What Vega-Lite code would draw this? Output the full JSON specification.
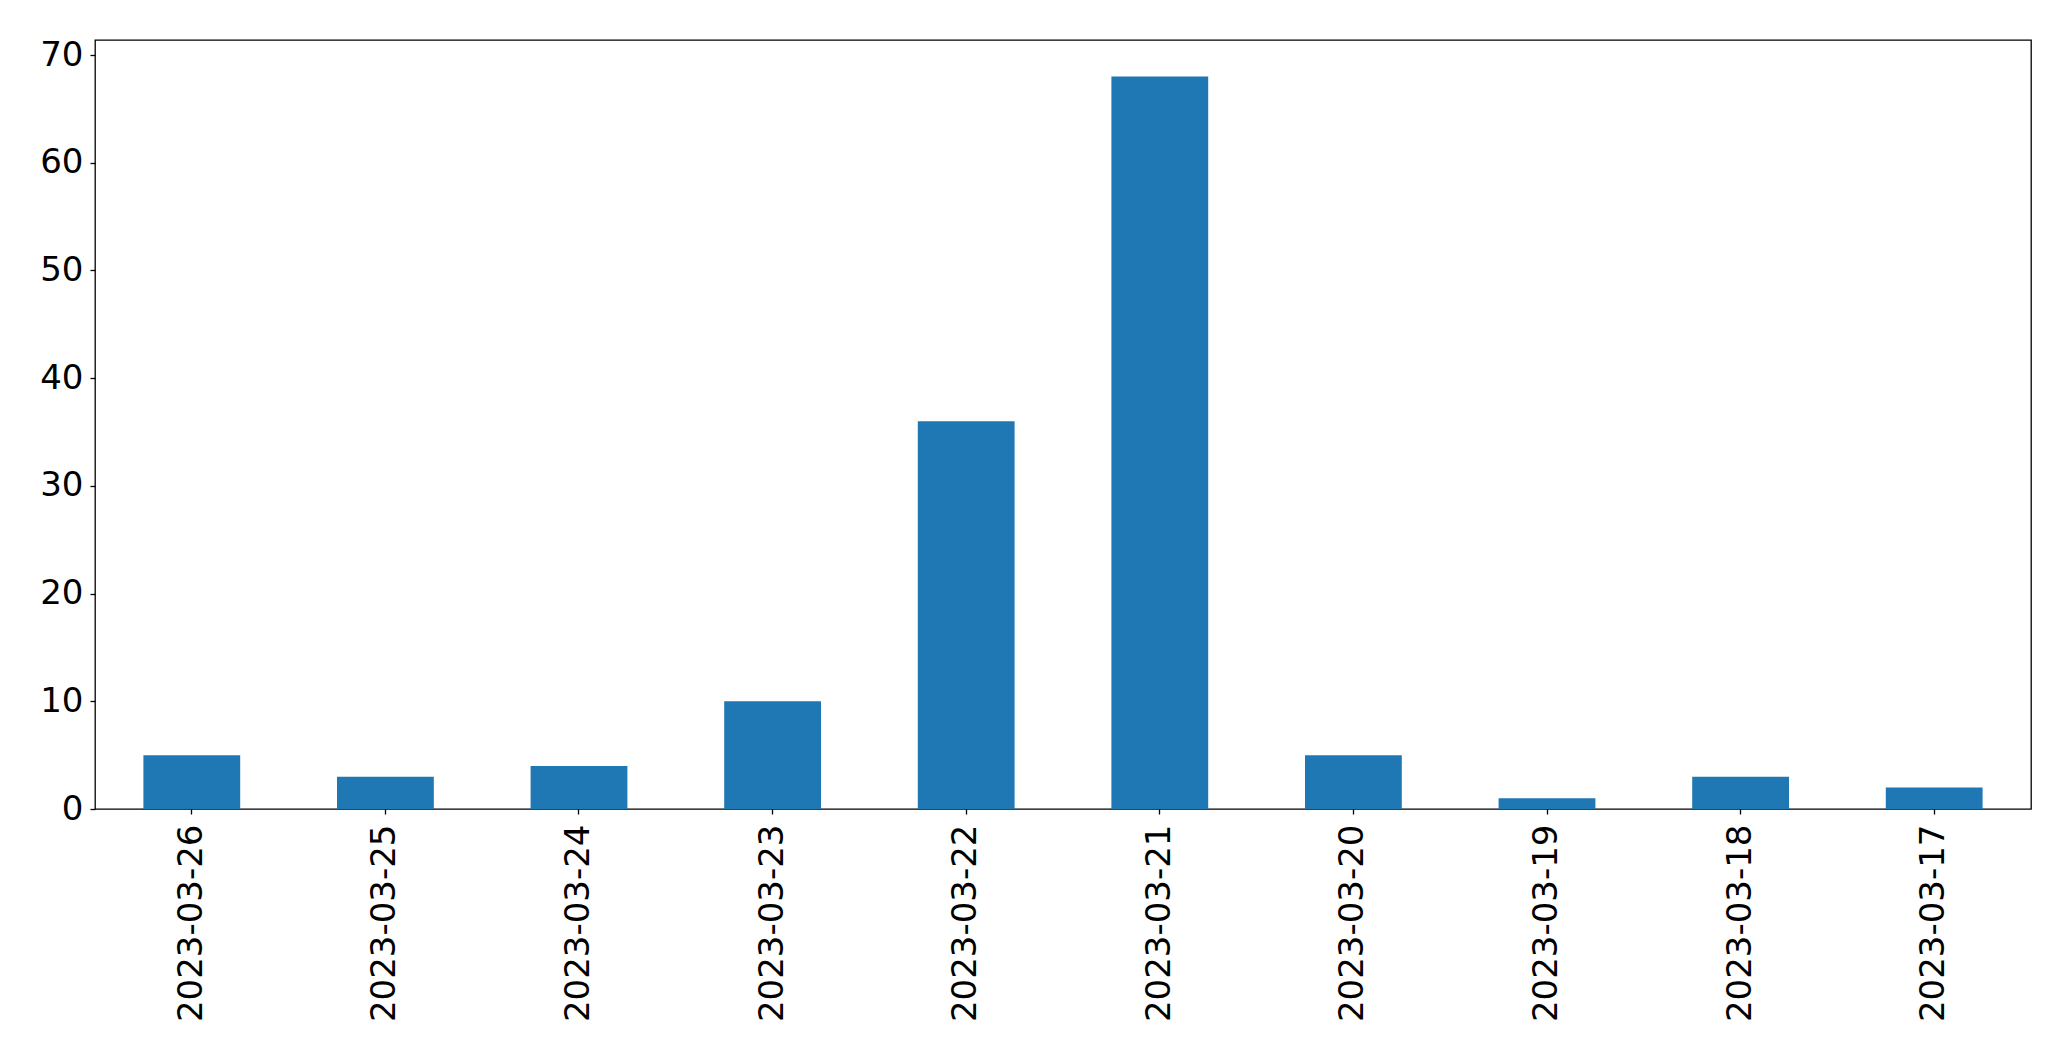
{
  "$schema": "https://vega.github.io/schema/vega-lite/v6.json",
  "autosize": {"type": "none"},
  "padding": {"left": 95, "top": 40, "right": 40, "bottom": 252},
  "width": 1936,
  "height": 769,
  "background": "white",
  "config": {
    "view": {"stroke": "black", "strokeWidth": 1.3},
    "axis": {
      "labelFont": "DejaVu Sans",
      "labelFontSize": 34,
      "labelColor": "black",
      "labelLimit": 0,
      "tickColor": "black",
      "tickWidth": 1.3,
      "tickSize": 5,
      "domain": false,
      "grid": false,
      "title": null
    }
  },
  "data": {
    "values": [
      {"date": "2023-03-26", "count": 5},
      {"date": "2023-03-25", "count": 3},
      {"date": "2023-03-24", "count": 4},
      {"date": "2023-03-23", "count": 10},
      {"date": "2023-03-22", "count": 36},
      {"date": "2023-03-21", "count": 68},
      {"date": "2023-03-20", "count": 5},
      {"date": "2023-03-19", "count": 1},
      {"date": "2023-03-18", "count": 3},
      {"date": "2023-03-17", "count": 2}
    ]
  },
  "mark": {"type": "bar", "color": "#1f77b4"},
  "encoding": {
    "x": {
      "field": "date",
      "type": "nominal",
      "sort": null,
      "scale": {"paddingInner": 0.5, "paddingOuter": 0.25},
      "axis": {"labelAngle": -90, "labelPadding": 10, "labelLimit": 0}
    },
    "y": {
      "field": "count",
      "type": "quantitative",
      "scale": {"domain": [0, 71.4], "nice": false},
      "axis": {"values": [0, 10, 20, 30, 40, 50, 60, 70], "labelPadding": 7}
    }
  }
}
